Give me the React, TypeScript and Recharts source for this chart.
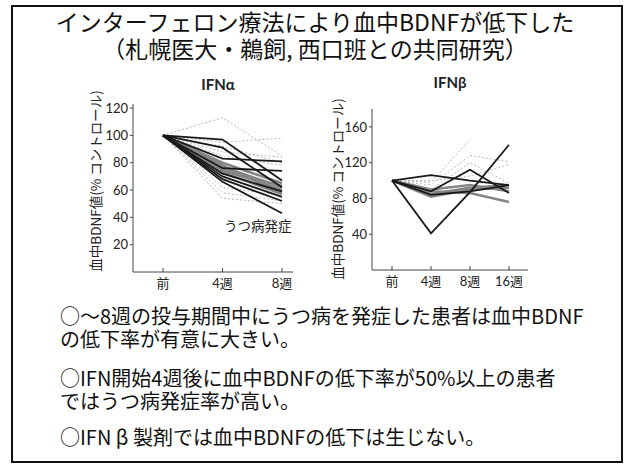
import React from "react";
import { LineChart, Line, XAxis, YAxis } from "recharts";

const alphaWeeks = ["前", "4週", "8週"];
const alphaDark = [
  [100, 97, 67],
  [100, 91, 62],
  [100, 83, 81],
  [100, 76, 74],
  [100, 70, 55],
  [100, 66, 43],
  [100, 72, 59],
  [100, 68, 52],
];
const alphaGrey = [
  [100, 80, 65],
  [100, 77, 62],
  [100, 75, 60],
  [100, 78, 58],
  [100, 73, 57],
  [100, 74, 63],
];
const alphaLight = [
  [100, 113, 85],
  [100, 95, 98],
  [100, 88, 84],
  [100, 92, 80],
  [100, 58, 52],
  [100, 54, 50],
  [100, 62, 56],
  [100, 85, 78],
];

const betaWeeks = ["前", "4週", "8週", "16週"];
const betaDark = [
  [100, 41, 87, 140],
  [100, 106, 100, 95],
  [100, 88, 112, 86],
  [100, 84, 88, 95],
];
const betaGrey = [
  [100, 85, 92, 95],
  [100, 82, 90, 92],
  [100, 88, 86, 76],
  [100, 90, 95, 88],
];
const betaLight = [
  [100, 98, 146, null],
  [100, 95, 128, 121],
  [100, 90, 120, 97],
  [100, 100, 105, 118],
];

const alphaTicks = [20, 40, 60, 80, 100, 120];
const betaTicks = [40, 80, 120, 160];

const FONT = "Lato, 'Noto Sans CJK JP', sans-serif";
const JP = "'Noto Sans CJK JP', sans-serif";

function buildRows(weeks: string[], groups: Record<string, (number | null)[][]>) {
  return weeks.map((w, i) => {
    const row: any = { week: w };
    Object.entries(groups).forEach(([g, list]) => {
      list.forEach((s, k) => {
        row[`${g}${k}`] = s[i];
      });
    });
    return row;
  });
}

function lines(prefix: string, count: number, kind: "dark" | "grey" | "light") {
  const style =
    kind === "dark"
      ? { stroke: "#1a1a1a", strokeWidth: 1.8 }
      : kind === "grey"
      ? { stroke: "#858585", strokeWidth: 2.6 }
      : { stroke: "#b8b8b8", strokeWidth: 1, strokeDasharray: "2 2" };
  return Array.from({ length: count }, (_, k) => (
    <Line
      key={`${prefix}${k}`}
      dataKey={`${prefix}${k}`}
      type="linear"
      dot={false}
      isAnimationActive={false}
      {...style}
    />
  ));
}

const tickStyle = { fill: "#222", fontSize: 13, fontFamily: FONT };
const axisStroke = { stroke: "#444" };

export default function App() {
  const alphaRows = buildRows(alphaWeeks, { l: alphaLight, g: alphaGrey, d: alphaDark });
  const betaRows = buildRows(betaWeeks, { l: betaLight, g: betaGrey, d: betaDark });

  const yLabel = "血中BDNF値(% コントロール)";
  const pre = { whiteSpace: "pre-line" as const };

  return (
    <div style={{ position: "absolute", left: 0, top: 0, width: 630, height: 465, background: "#fff", fontFamily: JP }}>
      <div
        style={{
          position: "absolute",
          left: 11,
          top: 5,
          width: 608,
          height: 454,
          border: "2px solid #111",
        }}
      />
      <div style={{ ...pre, position: "absolute", left: 0, width: 630, top: 8, textAlign: "center", fontSize: 23, lineHeight: "27px", color: "#111" }}>
        {"インターフェロン療法により血中BDNFが低下した\n（札幌医大・鵜飼, 西口班との共同研究）"}
      </div>

      <div style={{ position: "absolute", left: 178, top: 75, width: 80, textAlign: "center", fontFamily: FONT, fontWeight: 700, fontSize: 15, color: "#222" }}>
        IFNα
      </div>
      <div style={{ position: "absolute", left: 410, top: 73, width: 80, textAlign: "center", fontFamily: FONT, fontWeight: 700, fontSize: 15, color: "#222" }}>
        IFNβ
      </div>

      <div style={{ position: "absolute", left: 95 - 100, top: 181 - 9, width: 200, textAlign: "center", fontSize: 13.5, lineHeight: "18px", color: "#222", transform: "rotate(-90deg)" }}>
        {yLabel}
      </div>
      <div style={{ position: "absolute", left: 337 - 100, top: 189 - 9, width: 200, textAlign: "center", fontSize: 13.5, lineHeight: "18px", color: "#222", transform: "rotate(-90deg)" }}>
        {yLabel}
      </div>

      <div style={{ position: "absolute", left: 80, top: 95 }}>
        <LineChart width={230} height={200} data={alphaRows} margin={{ top: 9, right: 17, left: 13, bottom: 3 }}>
          <XAxis
            dataKey="week"
            padding={{ left: 30, right: 11 }}
            tick={tickStyle}
            axisLine={axisStroke}
            tickLine={axisStroke}
            tickSize={-4}
            tickMargin={11}
            height={20}
          />
          <YAxis
            domain={[0, 123]}
            ticks={alphaTicks}
            tick={tickStyle}
            axisLine={axisStroke}
            tickLine={axisStroke}
            tickSize={3}
            width={40}
          />
          {lines("l", alphaLight.length, "light")}
          {lines("g", alphaGrey.length, "grey")}
          {lines("d", alphaDark.length, "dark")}
        </LineChart>
      </div>
      <div style={{ position: "absolute", left: 224, top: 215, fontSize: 13.5, color: "#222" }}>うつ病発症</div>

      <div style={{ position: "absolute", left: 320, top: 100 }}>
        <LineChart width={230} height={195} data={betaRows} margin={{ top: 9, right: 22, left: 12, bottom: 3 }}>
          <XAxis
            dataKey="week"
            padding={{ left: 20, right: 19 }}
            tick={tickStyle}
            axisLine={axisStroke}
            tickLine={axisStroke}
            tickSize={-4}
            tickMargin={11}
            height={22}
          />
          <YAxis
            domain={[0, 180]}
            ticks={betaTicks}
            tick={tickStyle}
            axisLine={axisStroke}
            tickLine={axisStroke}
            tickSize={3}
            width={40}
          />
          {lines("l", betaLight.length, "light")}
          {lines("g", betaGrey.length, "grey")}
          {lines("d", betaDark.length, "dark")}
        </LineChart>
      </div>

      <div style={{ ...pre, position: "absolute", left: 60, top: 304, fontSize: 20, lineHeight: "23px", color: "#111" }}>
        {"○～8週の投与期間中にうつ病を発症した患者は血中BDNF\nの低下率が有意に大きい。"}
      </div>
      <div style={{ ...pre, position: "absolute", left: 60, top: 366, fontSize: 20, lineHeight: "23px", color: "#111" }}>
        {"○IFN開始4週後に血中BDNFの低下率が50%以上の患者\nではうつ病発症率が高い。"}
      </div>
      <div style={{ position: "absolute", left: 60, top: 425, fontSize: 20, lineHeight: "23px", color: "#111" }}>
        ○IFN β 製剤では血中BDNFの低下は生じない。
      </div>
    </div>
  );
}
